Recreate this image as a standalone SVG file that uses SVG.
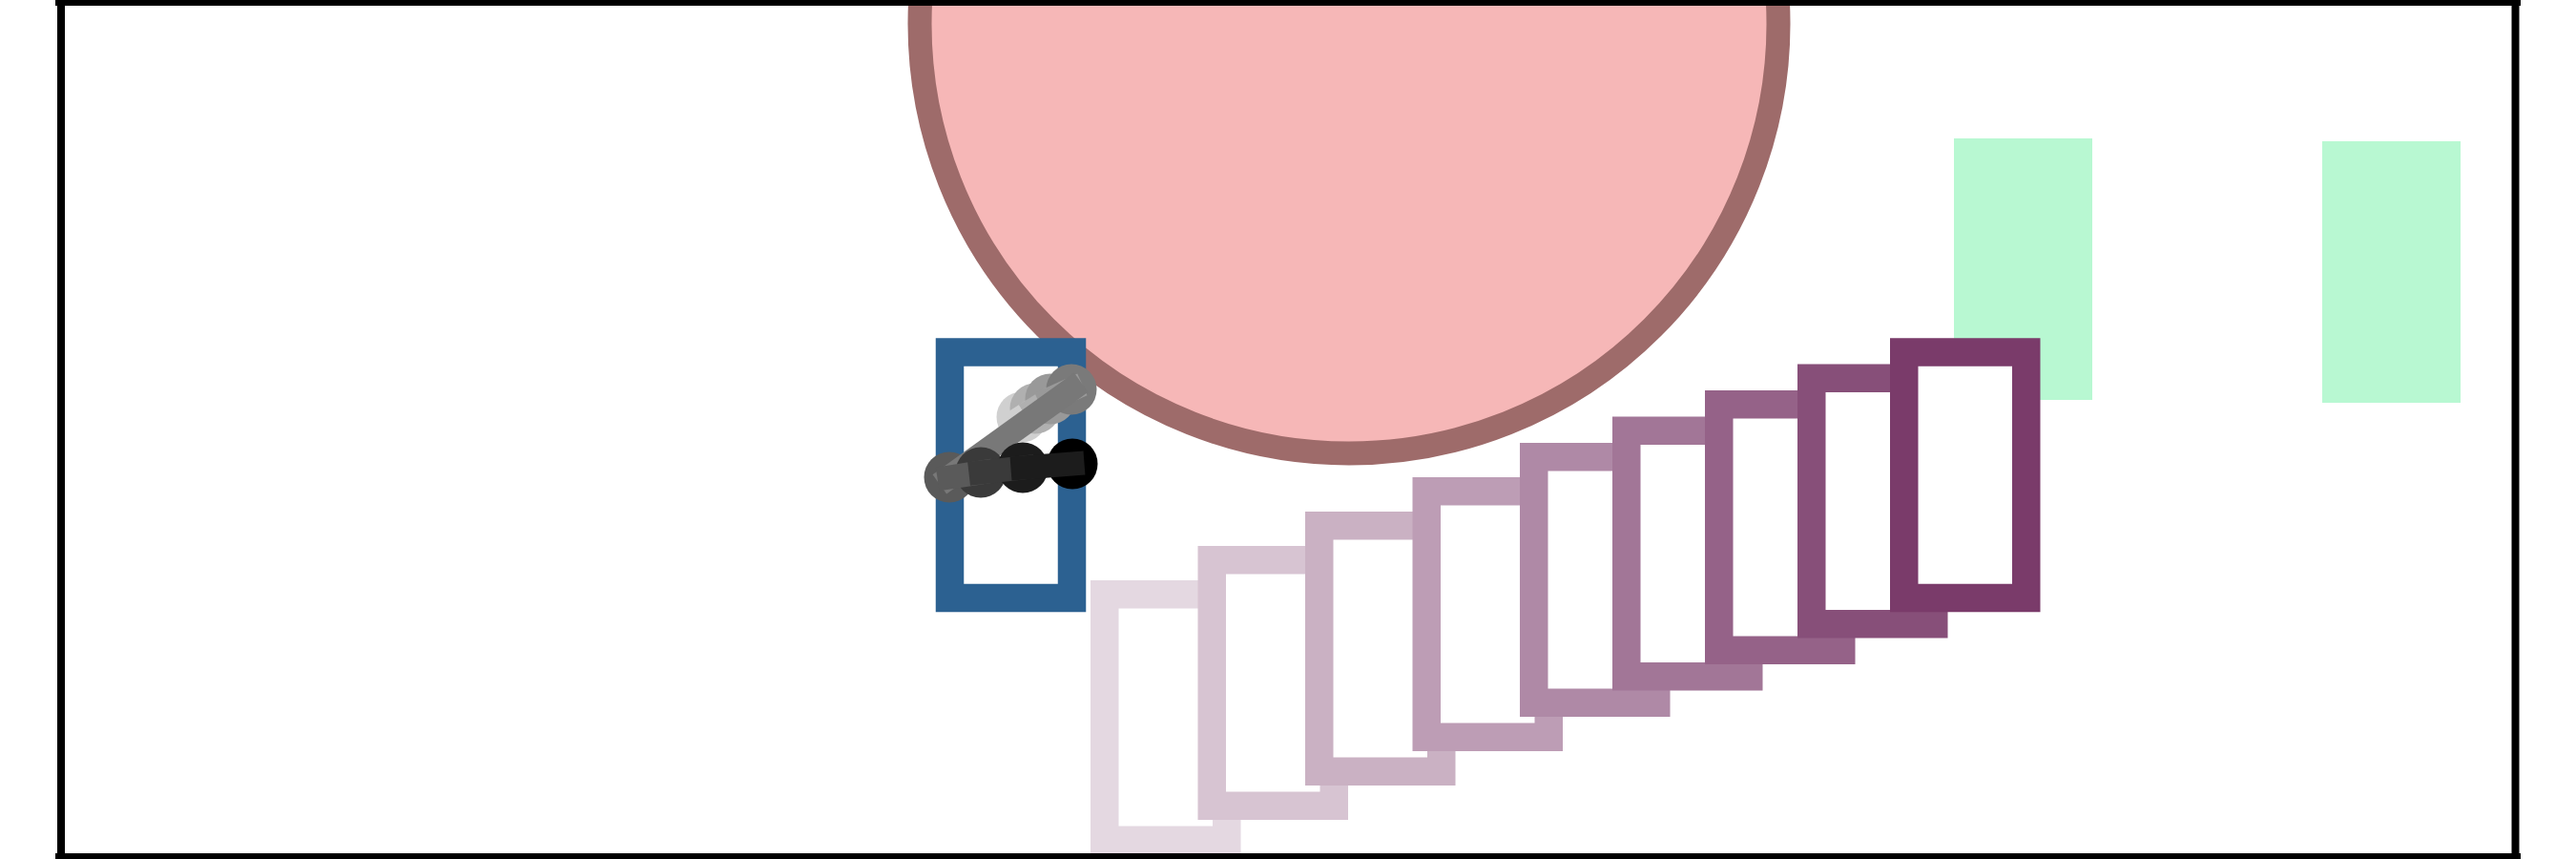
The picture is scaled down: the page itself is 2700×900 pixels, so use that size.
<svg xmlns="http://www.w3.org/2000/svg" width="2700" height="900" viewBox="0 0 2700 900">
<style>
.frame{stroke:#000;stroke-width:8;fill:none}
.box{fill:#fff;stroke-width:29.5}
.grn{fill:#b8f8d2}
.seg{stroke-width:25;stroke-linecap:square;fill:none}
</style>
<rect width="2700" height="900" fill="#fff"/>
<g id="sun">
<circle cx="1414" cy="25" r="450" fill="#f6b7b7" stroke="#9e6b6a" stroke-width="25"/>
</g>
<g id="green-1"><rect class="grn" x="2048" y="145" width="145" height="274"/></g>
<g id="green-2"><rect class="grn" x="2434" y="148" width="145" height="274"/></g>
<g id="blue-box"><rect class="box" stroke="#2c6191" x="995.5" y="369" width="128" height="257.5"/></g>
<g id="trail">
<rect class="box" stroke="#e4d8e1" x="1157.75" y="622.75" width="128" height="257.5"/>
<rect class="box" stroke="#d7c4d2" x="1270.25" y="586.75" width="128" height="257.5"/>
<rect class="box" stroke="#cab1c3" x="1382.75" y="550.75" width="128" height="257.5"/>
<rect class="box" stroke="#bd9db5" x="1495.25" y="514.75" width="128" height="257.5"/>
<rect class="box" stroke="#af89a6" x="1607.75" y="478.75" width="128" height="257.5"/>
<rect class="box" stroke="#a27697" x="1704.75" y="451.25" width="128" height="257.5"/>
<rect class="box" stroke="#956288" x="1801.75" y="423.75" width="128" height="257.5"/>
<rect class="box" stroke="#874f79" x="1898.75" y="396.25" width="128" height="257.5"/>
<rect class="box" stroke="#7a3b6a" x="1995.75" y="369" width="128" height="257.5"/>
</g>
<g id="stick">
<circle cx="1071" cy="437" r="26.5" fill="#d0d0d0"/>
<circle cx="1085" cy="428" r="26.5" fill="#b0b0b0"/>
<line class="seg" stroke="#d0d0d0" x1="1071" y1="437" x2="1085" y2="428"/>
<circle cx="1101" cy="418" r="26.5" fill="#999999"/>
<line class="seg" stroke="#b0b0b0" x1="1085" y1="428" x2="1101" y2="418"/>
<circle cx="1123" cy="408" r="26.5" fill="#7a7a7a"/>
<line class="seg" stroke="#999999" x1="1101" y1="418" x2="1123" y2="408"/>
<circle cx="995" cy="500" r="26.5" fill="#5a5a5a"/>
<line class="seg" stroke="#787878" x1="1123" y1="408" x2="995" y2="500"/>
<circle cx="1028" cy="495" r="26.5" fill="#3a3a3a"/>
<line class="seg" stroke="#5a5a5a" x1="995" y1="500" x2="1028" y2="495"/>
<circle cx="1072" cy="490" r="26.5" fill="#1c1c1c"/>
<line class="seg" stroke="#3a3a3a" x1="1028" y1="495" x2="1072" y2="490"/>
<circle cx="1124" cy="486" r="26.5" fill="#000000"/>
<line class="seg" stroke="#1c1c1c" x1="1072" y1="490" x2="1124" y2="486"/>
</g>
<g id="border">
<line class="frame" x1="58" y1="2" x2="2642" y2="2"/>
<line class="frame" x1="58" y1="898" x2="2642" y2="898"/>
<line class="frame" x1="64" y1="0" x2="64" y2="900"/>
<line class="frame" x1="2636.5" y1="0" x2="2636.5" y2="900"/>
</g>
</svg>
